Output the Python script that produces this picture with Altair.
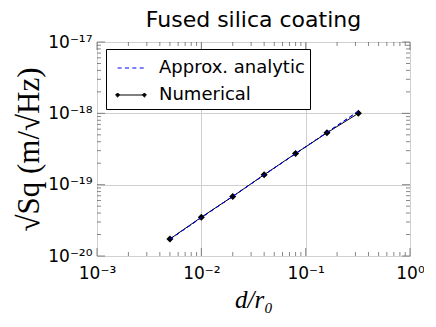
import altair as alt
import pandas as pd

# data
d_r0 = [0.005, 0.01, 0.02, 0.04, 0.08, 0.16, 0.32]
numerical = [1.73e-20, 3.5e-20, 6.84e-20, 1.38e-19, 2.73e-19, 5.33e-19, 1.0e-18]
analytic = [1.72e-20, 3.45e-20, 6.85e-20, 1.37e-19, 2.72e-19, 5.4e-19, 1.07e-18]
series_names = ["Approx. analytic", "Numerical"]
x_ticks = [1e-3, 1e-2, 1e-1, 1]
y_ticks = [1e-20, 1e-19, 1e-18, 1e-17]
x_minor = [m * 10.0 ** e for e in (-3, -2, -1) for m in range(2, 10)]
y_minor = [m * 10.0 ** e for e in (-20, -19, -18) for m in range(2, 10)]

rows = []
for x, v in zip(d_r0, analytic):
    rows.append({"x": x, "y": v, "series": series_names[0]})
for x, v in zip(d_r0, numerical):
    rows.append({"x": x, "y": v, "series": series_names[1]})
df = pd.DataFrame(rows)
df_num = df[df.series == series_names[1]]
df_an = df[df.series == series_names[0]]

W, H = 313, 214
xdom = [1e-3, 1]
ydom = [1e-20, 1e-17]

sup = {-20: "⁻²⁰", -19: "⁻¹⁹", -18: "⁻¹⁸", -17: "⁻¹⁷",
       -3: "⁻³", -2: "⁻²", -1: "⁻¹", 0: "⁰"}
lab_expr = ""
for k, v in sup.items():
    lab_expr += f"round(log(datum.value)/LN10) == {k} ? '10{v}' : "
lab_expr += "''"

xscale = alt.Scale(type="log", domain=xdom, nice=False)
yscale = alt.Scale(type="log", domain=ydom, nice=False)

x_enc = alt.X("x:Q", scale=xscale,
              axis=alt.Axis(values=x_ticks, labelExpr=lab_expr, title="d/r₀",
                            titleFont="Liberation Serif", titleFontStyle="italic",
                            titleFontWeight="normal", titleFontSize=25,
                            titlePadding=6, labelFontSize=17, labelPadding=9,
                            labelFont="DejaVu Sans", labelColor="black",
                            titleColor="black", ticks=False, domain=False,
                            grid=True, gridColor="#d0d0d0", labelFlush=False))
y_enc = alt.Y("y:Q", scale=yscale,
              axis=alt.Axis(values=y_ticks, labelExpr=lab_expr, title="√Sq (m/√Hz)",
                            titleFont="Liberation Serif", titleFontWeight="normal",
                            titleFontSize=31, titlePadding=2, labelFontSize=17,
                            labelPadding=5, labelFont="DejaVu Sans", labelColor="black",
                            titleColor="black", ticks=False, domain=False,
                            grid=True, gridColor="#d0d0d0", labelFlush=False))

color_scale = alt.Scale(domain=series_names, range=["blue", "black"])

an_line = alt.Chart(df_an).mark_line(strokeDash=[4, 3], strokeWidth=1, color="blue").encode(
    x=x_enc, y=y_enc)
num_line = alt.Chart(df_num).mark_line(strokeWidth=1, color="black").encode(
    x="x:Q", y="y:Q")
num_pts = alt.Chart(df_num).mark_point(shape="diamond", filled=True, size=50,
                                       color="black", opacity=1).encode(x="x:Q", y="y:Q")

dash_path = "M-1,0L-0.7,0M-0.45,0L-0.15,0M0.1,0L0.4,0M0.65,0L0.95,0"
num_path = ("M-1,0L1,0M-1,-0.15L-0.85,0L-1,0.15L-1.15,0Z"
            "M1,-0.15L1.15,0L1,0.15L0.85,0Z")
leg = alt.Legend(title=None, orient="none", legendX=9, legendY=7,
                 symbolOpacity=1, symbolSize=720, symbolStrokeWidth=1,
                 labelFontSize=18, labelFont="DejaVu Sans",
                 labelColor="black", strokeColor="black",
                 fillColor="white", padding=5, rowPadding=4,
                 labelOffset=14, symbolOffset=6)
legend_layer = alt.Chart(df).mark_point(filled=True, opacity=0, strokeWidth=1).encode(
    x="x:Q", y="y:Q",
    fill=alt.Fill("series:N", scale=color_scale, legend=leg),
    stroke=alt.Stroke("series:N", scale=color_scale, legend=leg),
    shape=alt.Shape("series:N", scale=alt.Scale(domain=series_names,
                                                range=[dash_path, num_path]),
                    legend=leg),
)

tick_kw = dict(color="#555", thickness=1)
t_bot_min = alt.Chart(pd.DataFrame({"x": x_minor, "y": [ydom[0]] * len(x_minor)})).mark_tick(
    orient="vertical", size=4, yOffset=-2, **tick_kw).encode(x="x:Q", y="y:Q")
t_top_min = alt.Chart(pd.DataFrame({"x": x_minor, "y": [ydom[1]] * len(x_minor)})).mark_tick(
    orient="vertical", size=4, yOffset=2, **tick_kw).encode(x="x:Q", y="y:Q")
t_left_min = alt.Chart(pd.DataFrame({"x": [xdom[0]] * len(y_minor), "y": y_minor})).mark_tick(
    orient="horizontal", size=4, xOffset=2, **tick_kw).encode(x="x:Q", y="y:Q")
t_right_min = alt.Chart(pd.DataFrame({"x": [xdom[1]] * len(y_minor), "y": y_minor})).mark_tick(
    orient="horizontal", size=4, xOffset=-2, **tick_kw).encode(x="x:Q", y="y:Q")
t_bot_maj = alt.Chart(pd.DataFrame({"x": x_ticks, "y": [ydom[0]] * len(x_ticks)})).mark_tick(
    orient="vertical", size=8, yOffset=-4, **tick_kw).encode(x="x:Q", y="y:Q")
t_top_maj = alt.Chart(pd.DataFrame({"x": x_ticks, "y": [ydom[1]] * len(x_ticks)})).mark_tick(
    orient="vertical", size=8, yOffset=4, **tick_kw).encode(x="x:Q", y="y:Q")
t_left_maj = alt.Chart(pd.DataFrame({"x": [xdom[0]] * len(y_ticks), "y": y_ticks})).mark_tick(
    orient="horizontal", size=8, xOffset=4, **tick_kw).encode(x="x:Q", y="y:Q")
t_right_maj = alt.Chart(pd.DataFrame({"x": [xdom[1]] * len(y_ticks), "y": y_ticks})).mark_tick(
    orient="horizontal", size=8, xOffset=-4, **tick_kw).encode(x="x:Q", y="y:Q")

chart = alt.layer(
    an_line, t_bot_min, t_top_min, t_left_min, t_right_min,
    t_bot_maj, t_top_maj, t_left_maj, t_right_maj,
    num_line, num_pts, an_line.encode(x="x:Q", y="y:Q"), legend_layer,
).properties(
    width=W, height=H,
    title=alt.Title("Fused silica coating", fontSize=22, font="DejaVu Sans",
                    fontWeight="normal", color="black", offset=1, anchor="middle"),
    autosize=alt.AutoSizeParams(type="none"),
    padding={"left": 89, "top": 34, "right": 14, "bottom": 62},
).configure_view(stroke="#888", strokeWidth=1.2).configure(background="white")

chart.save("out.html", embed_options={"renderer": "svg", "actions": False})
